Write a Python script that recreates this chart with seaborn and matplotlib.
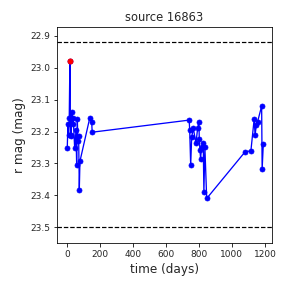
import numpy as np
import pandas as pd
import matplotlib
matplotlib.use("Agg")
import matplotlib.pyplot as plt
import seaborn as sns

# light curve values
time_days = [2, 6, 10, 14, 18, 22, 26, 30, 35, 38, 47, 55, 59, 63, 67, 71, 75, 79,
             139, 150, 153,
             741, 744, 750, 756, 766, 782, 792, 800, 802, 806, 810, 816, 826, 830, 836, 847,
             1079, 1115, 1135, 1140, 1148, 1155, 1180, 1183, 1190]
r_mag = [23.253, 23.175, 23.211, 23.156, 22.979, 23.214, 23.211, 23.138, 23.175, 23.156,
         23.253, 23.196, 23.306, 23.162, 23.229, 23.214, 23.382, 23.293,
         23.156, 23.169, 23.202,
         23.164, 23.196, 23.306, 23.217, 23.190, 23.237, 23.190, 23.169, 23.222, 23.258,
         23.285, 23.248, 23.237, 23.390, 23.248, 23.410,
         23.264, 23.260, 23.159, 23.211, 23.180, 23.170, 23.120, 23.319, 23.240]
peak_time = [18]
peak_mag = [22.979]
limits = [22.92, 23.5]

df = pd.DataFrame({"time": time_days, "mag": r_mag})

sns.set_style("ticks")
fig = plt.figure(figsize=(4, 4), dpi=72)
ax = fig.add_axes([0.198, 0.156, 0.746, 0.75])

sns.lineplot(data=df, x="time", y="mag", sort=False, color="blue", marker="o",
             markersize=5, markeredgecolor="blue", linewidth=1.3, ax=ax)
ax.plot(peak_time, peak_mag, "o", color="red", markersize=5)
for lim in limits:
    ax.axhline(lim, color="black", linestyle="--", linewidth=1.2)

ax.set_xlim(-60, 1242)
ax.set_ylim(23.55, 22.872)
ax.set_xticks([0, 200, 400, 600, 800, 1000, 1200])
ax.set_yticks([22.9, 23.0, 23.1, 23.2, 23.3, 23.4, 23.5])
ax.tick_params(labelsize=9, direction="out", length=3.5, width=0.8, color="black")
for s in ax.spines.values():
    s.set_color("black")
    s.set_linewidth(0.8)
ax.set_xlabel("time (days)", fontsize=12)
ax.set_ylabel("r mag (mag)", fontsize=12)
ax.set_title("source 16863", fontsize=11.5)

fig.savefig("out.png", dpi=72)
